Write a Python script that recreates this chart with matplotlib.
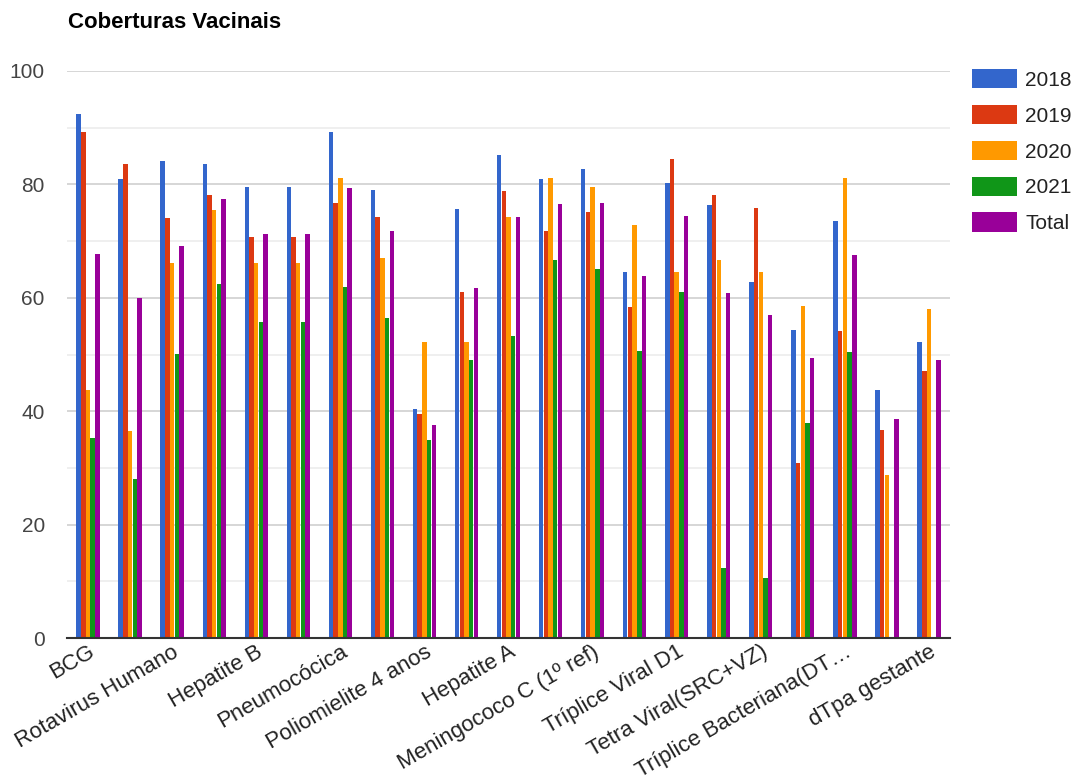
import numpy as np
import matplotlib.pyplot as plt
from matplotlib.ticker import MultipleLocator

# Vaccines (only every other name is printed on the axis)
vacinas = [
    "BCG",
    "Hepatite B em crianças até 30 dias",
    "Rotavirus Humano",
    "Meningococo C",
    "Hepatite B",
    "Penta",
    "Pneumocócica",
    "Poliomielite",
    "Poliomielite 4 anos",
    "Febre Amarela",
    "Hepatite A",
    "Pneumocócica(1º ref)",
    "Meningococo C (1º ref)",
    "Poliomielite(1º ref)",
    "Tríplice Viral D1",
    "Tríplice Viral D2",
    "Tetra Viral(SRC+VZ)",
    "DTP REF (4 e 6 anos)",
    "Tríplice Bacteriana(DTP)(1º ref)",
    "Dupla adulto e tríplice acelular gestante",
    "dTpa gestante",
]

# Coverage (%) per year
cob_2018 = [92.5, 81.0, 84.1, 83.6, 79.6, 79.6, 89.2, 79.0, 40.3, 75.7, 85.2,
            81.0, 82.7, 64.5, 80.2, 76.3, 62.8, 54.4, 73.5, 43.8, 52.2]
cob_2019 = [89.2, 83.6, 74.0, 78.2, 70.7, 70.7, 76.8, 74.3, 39.5, 61.1, 78.8,
            71.8, 75.1, 58.4, 84.4, 78.2, 75.9, 30.8, 54.1, 36.7, 47.1]
cob_2020 = [43.7, 36.5, 66.1, 75.4, 66.1, 66.1, 81.2, 67.0, 52.2, 52.2, 74.3,
            81.2, 79.6, 72.9, 64.5, 66.7, 64.5, 58.6, 81.2, 28.8, 58.0]
cob_2021 = [35.3, 28.1, 50.1, 62.5, 55.8, 55.8, 61.9, 56.4, 35.0, 49.0, 53.2,
            66.7, 65.1, 50.7, 61.1, 12.3, 10.6, 37.9, 50.5, 0.0, 0.0]
cob_total = [67.8, 59.9, 69.2, 77.4, 71.2, 71.2, 79.3, 71.8, 37.6, 61.7, 74.3,
             76.5, 76.8, 63.9, 74.5, 60.8, 56.9, 49.4, 67.5, 38.7, 49.0]

series = ["2018", "2019", "2020", "2021", "Total"]
cores = ["#3366cc", "#dc3912", "#ff9900", "#109618", "#990099"]


def rotulo(nome, limite=23):
    # long names get cut with an ellipsis, like the web chart does
    return nome if len(nome) <= limite else nome[:limite - 1] + "…"


plt.rcParams['font.family'] = ['Liberation Sans', 'DejaVu Sans']

fig = plt.figure(figsize=(10.77, 7.80), dpi=100)
ax = fig.add_axes([67 / 1077, 142 / 780, 883 / 1077, 567 / 780])

x = np.arange(len(vacinas))
largura = 0.112
valores = [cob_2018, cob_2019, cob_2020, cob_2021, cob_total]
barras = []
for i, (nome, vals, cor) in enumerate(zip(series, valores, cores)):
    b = ax.bar(x + (i - 2) * largura, vals, width=largura * 0.95,
               color=cor, linewidth=0, label=nome, zorder=3)
    barras.append(b)

ax.set_xlim(-0.5, len(vacinas) - 0.5)
ax.set_ylim(0, 100)

# gridlines: darker every 20, lighter in between
ax.yaxis.set_major_locator(MultipleLocator(20))
ax.yaxis.set_minor_locator(MultipleLocator(10))
ax.grid(axis='y', which='major', color='#cccccc', linewidth=1.1, zorder=0)
ax.grid(axis='y', which='minor', color='#ebebeb', linewidth=1.1, zorder=0)
ax.set_axisbelow(True)

for s in ['top', 'right', 'left']:
    ax.spines[s].set_visible(False)
ax.spines['bottom'].set_color('#333333')
ax.spines['bottom'].set_linewidth(1.5)
ax.spines['bottom'].set_zorder(4)

ax.tick_params(axis='y', which='both', length=0, pad=16, labelsize=15,
               labelcolor='#444444')
ax.tick_params(axis='x', length=0, pad=2.5, labelsize=16, labelcolor='#222222')

ax.set_xticks(x[::2])
ax.set_xticklabels([rotulo(v) for v in vacinas[::2]], rotation=30,
                   ha='right', va='top', rotation_mode='anchor')

fig.text(68 / 1077, 1 - 22 / 780, "Coberturas Vacinais", fontsize=16,
         fontweight='bold', color='#000000', va='center', ha='left')

fig.legend(handles=barras, labels=series, loc='upper left',
           bbox_to_anchor=(972 / 1077, 1 - 69 / 780),
           bbox_transform=fig.transFigure, frameon=False, fontsize=15,
           handlelength=2.16, handleheight=1.06, handletextpad=0.4,
           labelspacing=0.72, borderpad=0, borderaxespad=0,
           labelcolor='#222222')

fig.savefig("out.png", dpi=100)
